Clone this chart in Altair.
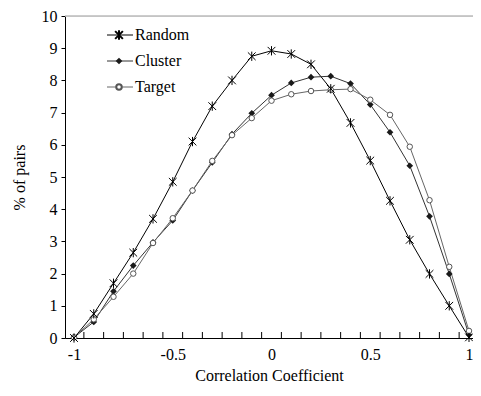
import altair as alt
import pandas as pd

x_vals = [-1.0, -0.9, -0.8, -0.7, -0.6, -0.5, -0.4, -0.3, -0.2, -0.1, 0.0,
          0.1, 0.2, 0.3, 0.4, 0.5, 0.6, 0.7, 0.8, 0.9, 1.0]
random_vals = [0.0, 0.75, 1.7, 2.65, 3.7, 4.85, 6.1, 7.2, 8.0, 8.75, 8.92,
               8.82, 8.5, 7.74, 6.68, 5.51, 4.26, 3.05, 1.99, 1.0, 0.02]
cluster_vals = [0.02, 0.5, 1.45, 2.25, 2.97, 3.65, 4.58, 5.45, 6.33, 6.98, 7.54,
                7.92, 8.1, 8.13, 7.9, 7.25, 6.39, 5.35, 3.78, 1.99, 0.1]
target_vals = [0.02, 0.58, 1.28, 2.0, 2.95, 3.72, 4.58, 5.5, 6.3, 6.83, 7.37,
               7.57, 7.67, 7.71, 7.73, 7.4, 6.93, 5.94, 4.28, 2.21, 0.22]
series_names = ["Random", "Cluster", "Target"]
series_colors = ["#000000", "#333333", "#666666"]
x_label_values = [-1, -0.5, 0, 0.5, 1]
y_tick_values = [0, 1, 2, 3, 4, 5, 6, 7, 8, 9, 10]
x_minor_ticks = [-0.95, -0.85, -0.75, -0.65, -0.55, -0.45, -0.35, -0.25, -0.15, -0.05,
                 0.05, 0.15, 0.25, 0.35, 0.45, 0.55, 0.65, 0.75, 0.85, 0.95]

rows = []
for name, vals in zip(series_names, [random_vals, cluster_vals, target_vals]):
    for xv, yv in zip(x_vals, vals):
        rows.append({"x": xv, "y": yv, "series": name})
df = pd.DataFrame(rows)

W, H = 408, 322
FONT = "Liberation Serif"
xscale = alt.Scale(domain=[-1.0456, 1.0202], nice=False, zero=False)
yscale = alt.Scale(domain=[0, 10], nice=False)
cscale = alt.Scale(domain=series_names, range=series_colors)

x_axis = alt.Axis(values=x_label_values, labelExpr="'' + datum.value", ticks=False,
                  grid=False, domainColor="black", labelFont=FONT, labelFontSize=16,
                  labelColor="black", labelPadding=8, title="Correlation Coefficient",
                  titleFont=FONT, titleFontSize=16, titleFontWeight="normal",
                  titleColor="black", titlePadding=5)
y_axis = alt.Axis(values=y_tick_values, tickSize=4, tickColor="black", grid=False,
                  domainColor="black", labelFont=FONT, labelFontSize=16,
                  labelColor="black", labelPadding=4, title="% of pairs",
                  titleFont=FONT, titleFontSize=16, titleFontWeight="normal",
                  titleColor="black", titlePadding=14)


def X(field):
    return alt.X(field, scale=xscale, axis=x_axis, title="Correlation Coefficient")


def Y(field):
    return alt.Y(field, scale=yscale, axis=y_axis, title="% of pairs")


lines = alt.Chart(df).mark_line(strokeWidth=1).encode(
    x=X("x:Q"),
    y=Y("y:Q"),
    color=alt.Color("series:N", scale=cscale, legend=None),
    detail="series:N",
)

asterisk = "M-1,-1L1,1M-1,1L1,-1M0,-1.2L0,1.2"

pts_random = alt.Chart(df).transform_filter(alt.datum.series == "Random").mark_point(
    shape=asterisk, size=60, color="black", strokeWidth=1, filled=False, opacity=1
).encode(x=X("x:Q"), y=Y("y:Q"))

pts_cluster = alt.Chart(df).transform_filter(alt.datum.series == "Cluster").mark_point(
    shape="diamond", size=45, color="#1a1a1a", filled=True, opacity=1
).encode(x=X("x:Q"), y=Y("y:Q"))

pts_target = alt.Chart(df).transform_filter(alt.datum.series == "Target").mark_point(
    shape="circle", size=30, stroke="#555555", fill="white", strokeWidth=1, filled=False, opacity=1
).encode(x=X("x:Q"), y=Y("y:Q"))

ticks = alt.Chart(pd.DataFrame({"x": x_minor_ticks})).mark_rule(color="black", strokeWidth=1).encode(
    x=X("x:Q"), y=alt.value(H), y2=alt.value(H - 6)
)

top_line = alt.Chart(pd.DataFrame({"y": [10]})).mark_rule(color="#bbbbbb", strokeWidth=1.5).encode(
    y=Y("y:Q")
)

# manual legend
leg_layers = []
leg_y = [19, 45, 71]
for i, name in enumerate(series_names):
    ld = pd.DataFrame({"series": [name]})
    base = alt.Chart(ld)
    leg_layers.append(base.mark_rule(color=series_colors[i], strokeWidth=1).encode(
        x=alt.value(42), x2=alt.value(68), y=alt.value(leg_y[i])))
    if name == "Random":
        leg_layers.append(base.mark_point(shape=asterisk, size=60, color="black", filled=False, opacity=1).encode(
            x=alt.value(54), y=alt.value(leg_y[i])))
    elif name == "Cluster":
        leg_layers.append(base.mark_point(shape="diamond", size=45, color="#1a1a1a", filled=True, opacity=1).encode(
            x=alt.value(54), y=alt.value(leg_y[i])))
    else:
        leg_layers.append(base.mark_point(shape="circle", size=30, stroke="#555555", fill="white", filled=False, opacity=1).encode(
            x=alt.value(54), y=alt.value(leg_y[i])))
    leg_layers.append(base.mark_text(align="left", baseline="middle", font=FONT, fontSize=16, color="black").encode(
        x=alt.value(70), y=alt.value(leg_y[i]), text="series:N"))

chart = alt.layer(top_line, ticks, lines, pts_cluster, pts_target, pts_random, *leg_layers).properties(
    width=W, height=H,
    autosize=alt.AutoSizeParams(type="none"),
    padding={"left": 57, "top": 8, "right": 0, "bottom": 50},
).configure_view(stroke=None).configure(background="white", font=FONT).configure_axis(
    labelFont=FONT, titleFont=FONT
).configure_text(font=FONT)

chart.save("out.html", embed_options={"renderer": "svg", "actions": False})
